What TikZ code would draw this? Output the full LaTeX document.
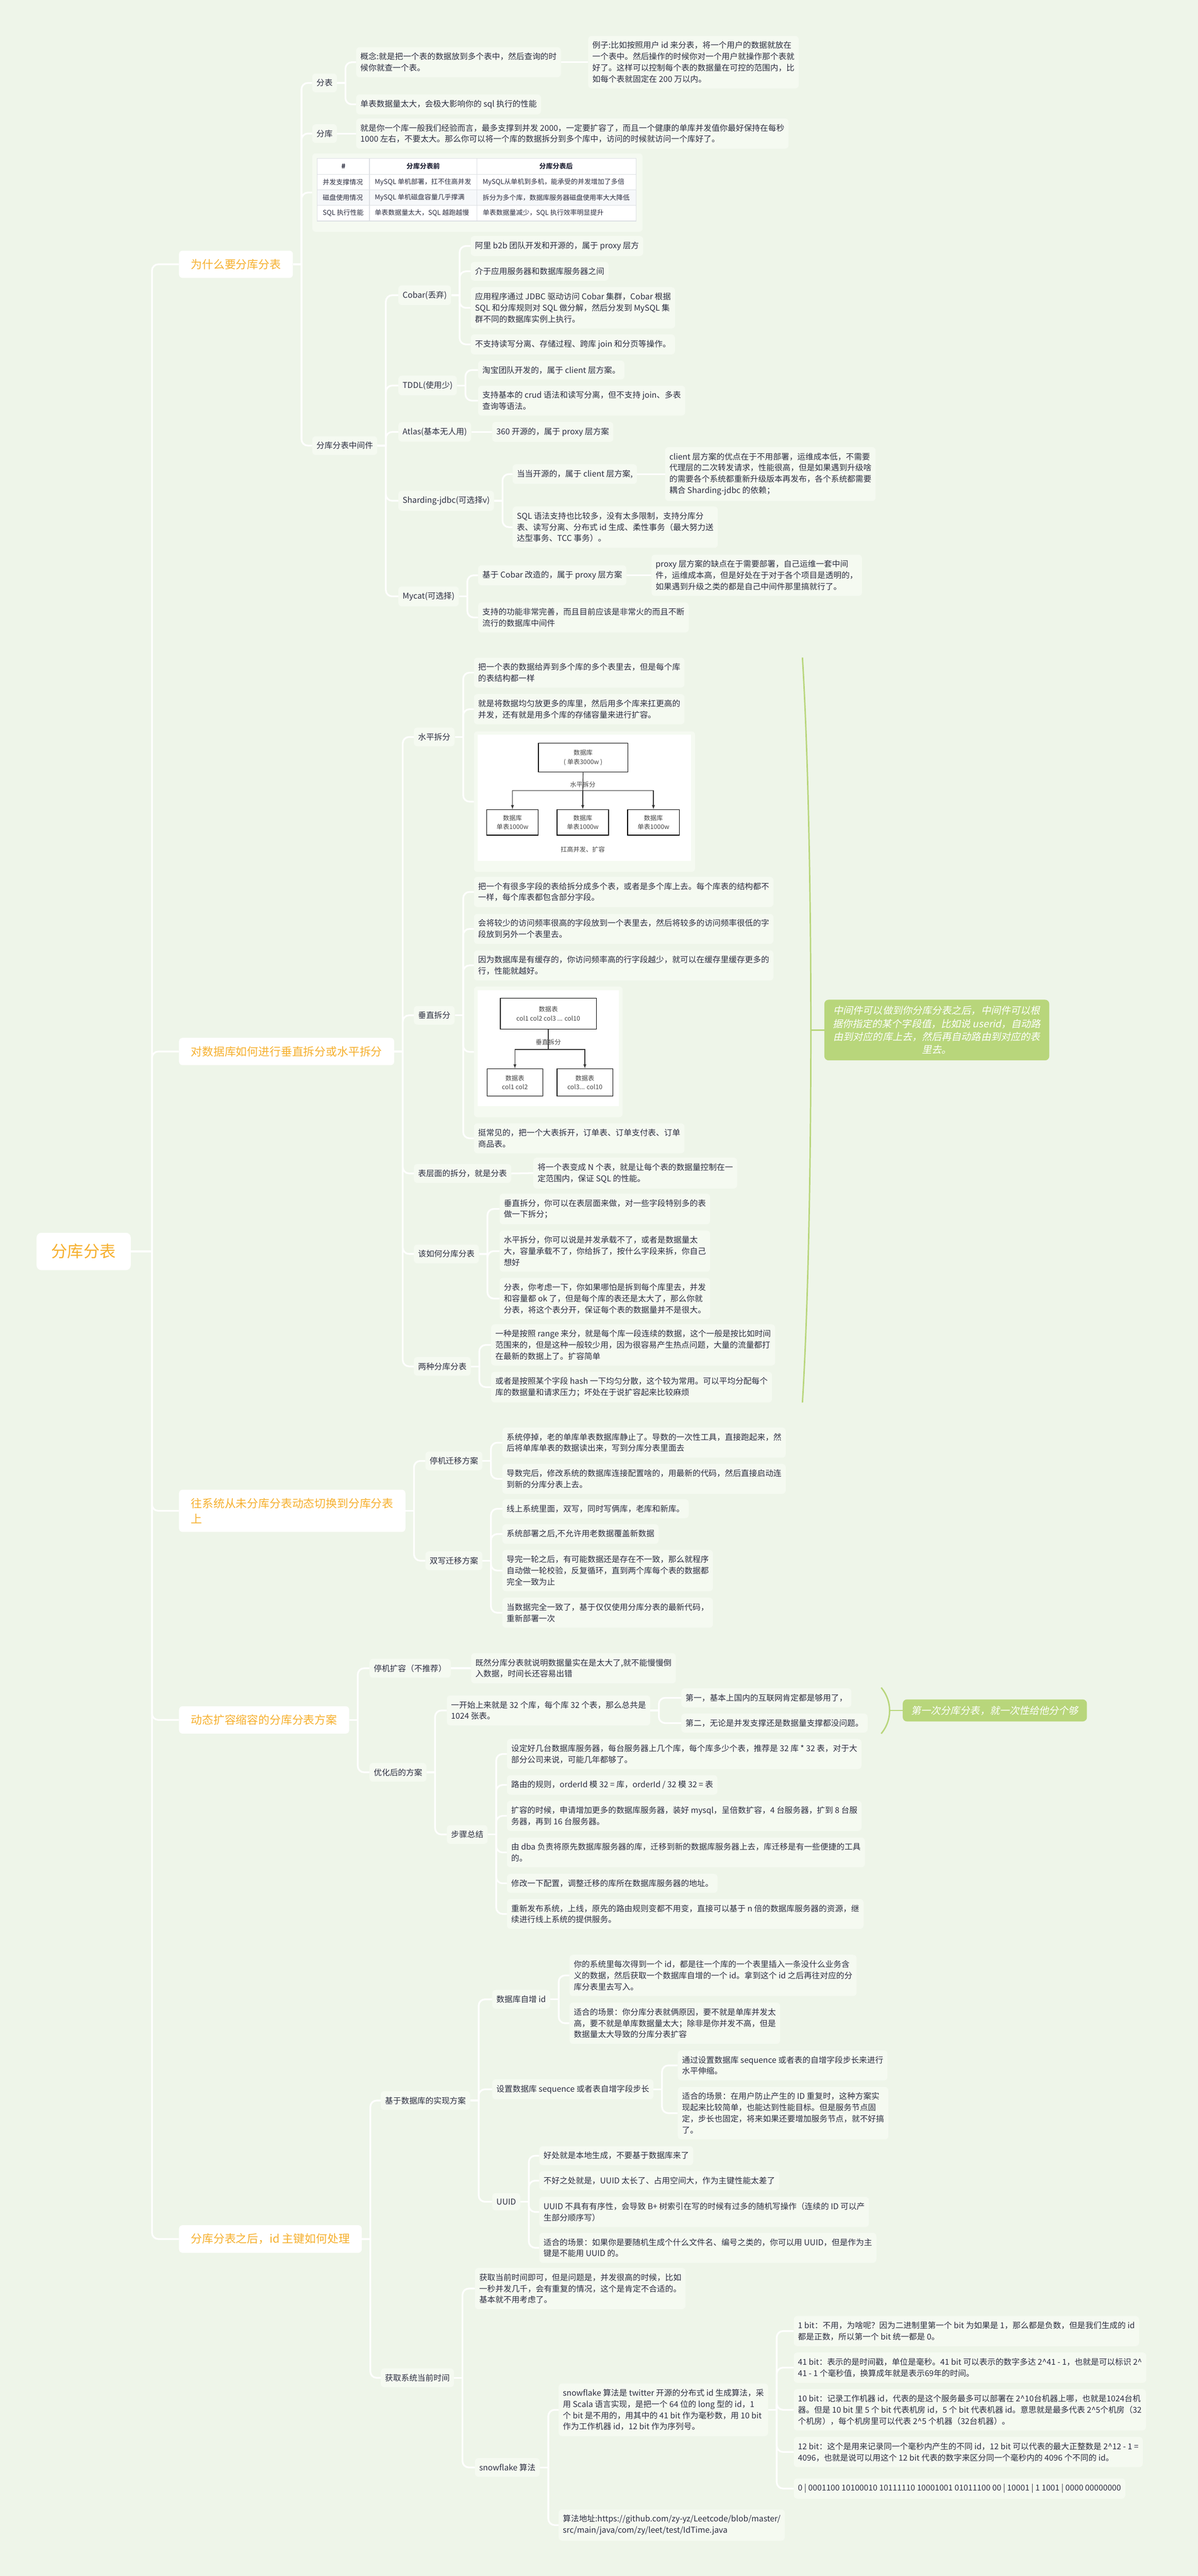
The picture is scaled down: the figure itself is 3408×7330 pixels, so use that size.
\documentclass[tikz,border=0pt]{standalone}
\usepackage{fontspec}
\setmainfont{Noto Sans CJK SC}
\newfontfamily\notefont[FakeSlant=0.2]{Noto Sans CJK SC}
\usepackage{tikz}
\usetikzlibrary{arrows}
\usepackage{color}
\definecolor{paper}{RGB}{238, 245, 233}
\definecolor{leaffill}{RGB}{245, 250, 241}
\definecolor{ink}{RGB}{44, 46, 64}
\definecolor{amber}{RGB}{246, 176, 46}
\definecolor{sprout}{RGB}{184, 214, 123}
\definecolor{gridgray}{RGB}{221, 224, 228}
\definecolor{rowgray}{RGB}{246, 248, 250}
\definecolor{imgink}{RGB}{70, 70, 70}
\tikzset{
  rootbox/.style={fill=white, rounded corners=7pt, text=amber, font=\fontsize{23}{28}\selectfont, inner xsep=21pt, inner ysep=16pt},
  topic/.style={fill=white, rounded corners=5pt, text=amber, font=\fontsize{16}{22}\selectfont, inner xsep=17pt, inner ysep=12pt, align=left, anchor=west},
  leaf/.style={fill=leaffill, rounded corners=5pt, text=ink, font=\fontsize{11.5}{16}\selectfont, inner xsep=6pt, inner ysep=8pt, align=left, anchor=west},
  panel/.style={fill=leaffill, rounded corners=5pt, anchor=west, inner sep=0pt},
  link/.style={draw=white, line width=2.4pt, rounded corners=9pt},
  note/.style={fill=sprout, rounded corners=6pt, text=white, font=\notefont\fontsize{14}{18.5}\selectfont, align=center, inner xsep=12pt, inner ysep=9pt, anchor=west},
  brace/.style={draw=sprout, line width=2pt},
  imgbox/.style={draw=black, line width=1pt, fill=white, text=imgink, font=\fontsize{9}{13}\selectfont, align=center, inner sep=0pt},
  imgtext/.style={text=imgink, font=\fontsize{9}{12}\selectfont, inner sep=1pt},
  imgline/.style={draw=black!80, line width=1pt},
  cell/.style={text=ink, font=\fontsize{9.5}{12}\selectfont, inner sep=0pt},
}
\begin{document}
\begin{tikzpicture}[x=0.5pt, y=-0.5pt]
\useasboundingbox (0,0) rectangle (3408,7330);
\fill[paper] (0,0) rectangle (3408,7330);

\node[rootbox] (root)     at ( 238,3561) {分库分表};
\node[topic]   (why)      at ( 509, 752) {为什么要分库分表};
\node[topic]   (howsplit) at ( 509,2992) {对数据库如何进行垂直拆分或水平拆分};
\node[topic]   (migrate)  at ( 509,4299) {往系统从未分库分表动态切换到分库分表\\上};
\node[topic]   (scale)    at ( 509,4894) {动态扩容缩容的分库分表方案};
\node[topic]   (idkey)    at ( 509,6371) {分库分表之后，id 主键如何处理};

\node[leaf]  (fb)      at ( 888, 236) {分表};
\node[leaf]  (fk)      at ( 888, 380) {分库};
\node[panel, minimum width=470pt, minimum height=111.5pt] (tbl) at (888,548) {};
\node[leaf]  (mid)     at ( 888,1268) {分库分表中间件};
\node[leaf]  (fbdef)   at (1013, 177) {概念:就是把一个表的数据放到多个表中，然后查询的时\\候你就查一个表。};
\node[leaf]  (fbeg)    at (1673, 177) {例子:比如按照用户 id 来分表，将一个用户的数据就放在\\一个表中。然后操作的时候你对一个用户就操作那个表就\\好了。这样可以控制每个表的数据量在可控的范围内，比\\如每个表就固定在 200 万以内。};
\node[leaf]  (fbslow)  at (1013, 297) {单表数据量太大，会极大影响你的 sql 执行的性能};
\node[leaf]  (fktxt)   at (1013, 380) {就是你一个库一般我们经验而言，最多支撑到并发 2000，一定要扩容了，而且一个健康的单库并发值你最好保持在每秒\\1000 左右，不要太大。那么你可以将一个库的数据拆分到多个库中，访问的时候就访问一个库好了。};

\fill[white]   ( 902,451) rectangle (1810,629);
\fill[rowgray] ( 902,540) rectangle (1810,584);
\draw[gridgray, line width=1pt] (902,451) rectangle (1810,629);
\draw[gridgray, line width=1pt] (902,496) -- (1810,496) (902,540) -- (1810,540) (902,584) -- (1810,584);
\draw[gridgray, line width=1pt] (1051,451) -- (1051,629) (1357,451) -- (1357,629);
\node[cell, font=\fontsize{9.5}{12}\selectfont\bfseries] (th0) at ( 977,473) {\#};
\node[cell, font=\fontsize{9.5}{12}\selectfont\bfseries] (th1) at (1204,473) {分库分表前};
\node[cell, font=\fontsize{9.5}{12}\selectfont\bfseries] (th2) at (1582,473) {分库分表后};
\node[cell, anchor=west] (r1a) at ( 918,518) {并发支撑情况};
\node[cell, anchor=west] (r1b) at (1066,518) {MySQL 单机部署，扛不住高并发};
\node[cell, anchor=west] (r1c) at (1373,518) {MySQL从单机到多机，能承受的并发增加了多倍};
\node[cell, anchor=west] (r2a) at ( 918,562) {磁盘使用情况};
\node[cell, anchor=west] (r2b) at (1066,562) {MySQL 单机磁盘容量几乎撑满};
\node[cell, anchor=west] (r2c) at (1373,562) {拆分为多个库，数据库服务器磁盘使用率大大降低};
\node[cell, anchor=west] (r3a) at ( 918,606) {SQL 执行性能};
\node[cell, anchor=west] (r3b) at (1066,606) {单表数据量太大，SQL 越跑越慢};
\node[cell, anchor=west] (r3c) at (1373,606) {单表数据量减少，SQL 执行效率明显提升};

\node[leaf]  (cobar)   at (1133, 840) {Cobar(丢弃)};
\node[leaf]  (tddl)    at (1133,1097) {TDDL(使用少)};
\node[leaf]  (atlas)   at (1133,1229) {Atlas(基本无人用)};
\node[leaf]  (sjdbc)   at (1133,1425) {Sharding-jdbc(可选择v)};
\node[leaf]  (mycat)   at (1133,1697) {Mycat(可选择)};
\node[leaf]  (cobarA)  at (1339, 700) {阿里 b2b 团队开发和开源的，属于 proxy 层方};
\node[leaf]  (cobarB)  at (1339, 772) {介于应用服务器和数据库服务器之间};
\node[leaf]  (cobarC)  at (1339, 876) {应用程序通过 JDBC 驱动访问 Cobar 集群，Cobar 根据\\SQL 和分库规则对 SQL 做分解，然后分发到 MySQL 集\\群不同的数据库实例上执行。};
\node[leaf]  (cobarD)  at (1339, 980) {不支持读写分离、存储过程、跨库 join 和分页等操作。};
\node[leaf]  (tddlA)   at (1360,1053) {淘宝团队开发的，属于 client 层方案。};
\node[leaf]  (tddlB)   at (1360,1140) {支持基本的 crud 语法和读写分离，但不支持 join、多表\\查询等语法。};
\node[leaf]  (atlasA)  at (1400,1229) {360 开源的，属于 proxy 层方案};
\node[leaf]  (sjdbcA)  at (1458,1349) {当当开源的，属于 client 层方案,};
\node[leaf]  (sjdbcC)  at (1892,1349) {client 层方案的优点在于不用部署，运维成本低，不需要\\代理层的二次转发请求，性能很高，但是如果遇到升级啥\\的需要各个系统都重新升级版本再发布，各个系统都需要\\耦合 Sharding-jdbc 的依赖；};
\node[leaf]  (sjdbcB)  at (1458,1500) {SQL 语法支持也比较多，没有太多限制，支持分库分\\表、读写分离、分布式 id 生成、柔性事务（最大努力送\\达型事务、TCC 事务）。};
\node[leaf]  (mycatA)  at (1360,1637) {基于 Cobar 改造的，属于 proxy 层方案};
\node[leaf]  (mycatC)  at (1853,1637) {proxy 层方案的缺点在于需要部署，自己运维一套中间\\件，运维成本高，但是好处在于对于各个项目是透明的，\\如果遇到升级之类的都是自己中间件那里搞就行了。};
\node[leaf]  (mycatB)  at (1360,1757) {支持的功能非常完善，而且目前应该是非常火的而且不断\\流行的数据库中间件};

\node[leaf]  (hsplit)   at (1177,2097) {水平拆分};
\node[leaf]  (vsplit)   at (1177,2889) {垂直拆分};
\node[leaf]  (tblsplit) at (1177,3339) {表层面的拆分，就是分表};
\node[leaf]  (howto)    at (1177,3568) {该如何分库分表};
\node[leaf]  (twoways)  at (1177,3888) {两种分库分表};
\node[leaf]  (hsA)      at (1348,1914) {把一个表的数据给弄到多个库的多个表里去，但是每个库\\的表结构都一样};
\node[leaf]  (hsB)      at (1348,2018) {就是将数据均匀放更多的库里，然后用多个库来扛更高的\\并发，还有就是用多个库的存储容量来进行扩容。};
\node[panel, minimum width=314.5pt, minimum height=200pt] (hsimg) at (1348,2281) {};
\node[leaf]  (vsA)      at (1348,2538) {把一个有很多字段的表给拆分成多个表，或者是多个库上去。每个库表的结构都不\\一样，每个库表都包含部分字段。};
\node[leaf]  (vsB)      at (1348,2643) {会将较少的访问频率很高的字段放到一个表里去，然后将较多的访问频率很低的字\\段放到另外一个表里去。};
\node[leaf]  (vsC)      at (1348,2747) {因为数据库是有缓存的，你访问频率高的行字段越少，就可以在缓存里缓存更多的\\行，性能就越好。};
\node[panel, minimum width=211.5pt, minimum height=186pt] (vsimg) at (1348,2993) {};
\node[leaf]  (vsD)      at (1348,3239) {挺常见的，把一个大表拆开，订单表、订单支付表、订单\\商品表。};
\node[leaf]  (tsA)      at (1517,3338) {将一个表变成 N 个表，就是让每个表的数据量控制在一\\定范围内，保证 SQL 的性能。};
\node[leaf]  (htA)      at (1421,3440) {垂直拆分，你可以在表层面来做，对一些字段特别多的表\\做一下拆分；};
\node[leaf]  (htB)      at (1421,3560) {水平拆分，你可以说是并发承载不了，或者是数据量太\\大，容量承载不了，你给拆了，按什么字段来拆，你自己\\想好};
\node[leaf]  (htC)      at (1421,3695) {分表，你考虑一下，你如果哪怕是拆到每个库里去，并发\\和容量都 ok 了，但是每个库的表还是太大了，那么你就\\分表，将这个表分开，保证每个表的数据量并不是很大。};
\node[leaf]  (twA)      at (1397,3827) {一种是按照 range 来分，就是每个库一段连续的数据，这个一般是按比如时间\\范围来的，但是这种一般较少用，因为很容易产生热点问题，大量的流量都打\\在最新的数据上了。扩容简单};
\node[leaf]  (twB)      at (1397,3947) {或者是按照某个字段 hash 一下均匀分散，这个较为常用。可以平均分配每个\\库的数据量和请求压力；坏处在于说扩容起来比较麻烦};

\fill[white] (1359,2090) rectangle (1966,2450);
\node[imgbox, minimum width=127pt,  minimum height=41pt]   (hstop) at (1659,2156) {数据库\\( 单表3000w )};
\node[imgbox, minimum width=73.5pt, minimum height=36.5pt] (hsa)   at (1458,2340) {数据库\\单表1000w};
\node[imgbox, minimum width=73.5pt, minimum height=36.5pt] (hsb)   at (1658,2340) {数据库\\单表1000w};
\node[imgbox, minimum width=73.5pt, minimum height=36.5pt] (hsc)   at (1859,2340) {数据库\\单表1000w};
\coordinate (hsj) at (1658,2250);
\draw[imgline] (hstop.south) -- (hsj);
\draw[imgline, -latex] (hsj) -| (hsa.north);
\draw[imgline, -latex] (hsj) -- (hsb.north);
\draw[imgline, -latex] (hsj) -| (hsc.north);
\node[imgtext] (hslabel) at (1658,2233) {水平拆分};
\node[imgtext] (hscap)   at (1658,2417) {扛高并发、扩容};

\fill[white] (1359,2818) rectangle (1761,3147);
\node[imgbox, minimum width=136.5pt, minimum height=44pt] (vstop) at (1560,2884) {数据表\\col1 col2 col3 ... col10};
\node[imgbox, minimum width=79pt,    minimum height=39pt] (vsa)   at (1465,3080) {数据表\\col1 col2};
\node[imgbox, minimum width=79.5pt,  minimum height=39pt] (vsb)   at (1664,3080) {数据表\\col3... col10};
\coordinate (vsj) at (1560,2986);
\draw[imgline] (vstop.south) -- (vsj);
\draw[imgline, -latex] (vsj) -| (vsa.north);
\draw[imgline, -latex] (vsj) -| (vsb.north);
\node[imgtext] (vslabel) at (1560,2965) {垂直拆分};

\node[note] (note1) at (2345,2931) {中间件可以做到你分库分表之后，中间件可以根\\据你指定的某个字段值，比如说 userid，自动路\\由到对应的库上去，然后再自动路由到对应的表\\里去。};
\draw[brace] (2283,1871) .. controls (2315,2400) and (2315,3462) .. (2283,3991);
\coordinate (brace1) at (2307,2931);
\draw[brace] (brace1) -- (note1.west);

\node[leaf]  (stop)     at (1210,4157) {停机迁移方案};
\node[leaf]  (dual)     at (1210,4441) {双写迁移方案};
\node[leaf]  (stopA)    at (1429,4105) {系统停掉，老的单库单表数据库静止了。导数的一次性工具，直接跑起来，然\\后将单库单表的数据读出来，写到分库分表里面去};
\node[leaf]  (stopB)    at (1429,4208) {导数完后，修改系统的数据库连接配置啥的，用最新的代码，然后直接启动连\\到新的分库分表上去。};
\node[leaf]  (dualA)    at (1429,4293) {线上系统里面，双写，同时写俩库，老库和新库。};
\node[leaf]  (dualB)    at (1429,4365) {系统部署之后,不允许用老数据覆盖新数据};
\node[leaf]  (dualC)    at (1429,4469) {导完一轮之后，有可能数据还是存在不一致，那么就程序\\自动做一轮校验，反复循环，直到两个库每个表的数据都\\完全一致为止};
\node[leaf]  (dualD)    at (1429,4589) {当数据完全一致了，基于仅仅使用分库分表的最新代码，\\重新部署一次};

\node[leaf]  (stopgrow) at (1051,4747) {停机扩容（不推荐）};
\node[leaf]  (better)   at (1051,5043) {优化后的方案};
\node[leaf]  (sgA)      at (1340,4747) {既然分库分表就说明数据量实在是太大了,就不能慢慢倒\\入数据，时间长还容易出错};
\node[leaf]  (first)    at (1271,4867) {一开始上来就是 32 个库，每个库 32 个表，那么总共是\\1024 张表。};
\node[leaf]  (steps)    at (1271,5220) {步骤总结};
\node[leaf]  (firstA)   at (1938,4831) {第一，基本上国内的互联网肯定都是够用了，};
\node[leaf]  (firstB)   at (1938,4903) {第二，无论是并发支撑还是数据量支撑都没问题。};
\node[leaf]  (stepA)    at (1442,4991) {设定好几台数据库服务器，每台服务器上几个库，每个库多少个表，推荐是 32 库 * 32 表，对于大\\部分公司来说，可能几年都够了。};
\node[leaf]  (stepB)    at (1442,5079) {路由的规则，orderId 模 32 = 库，orderId / 32 模 32 = 表};
\node[leaf]  (stepC)    at (1442,5167) {扩容的时候，申请增加更多的数据库服务器，装好 mysql，呈倍数扩容，4 台服务器，扩到 8 台服\\务器，再到 16 台服务器。};
\node[leaf]  (stepD)    at (1442,5271) {由 dba 负责将原先数据库服务器的库，迁移到新的数据库服务器上去，库迁移是有一些便捷的工具\\的。};
\node[leaf]  (stepE)    at (1442,5359) {修改一下配置，调整迁移的库所在数据库服务器的地址。};
\node[leaf]  (stepF)    at (1442,5446) {重新发布系统，上线，原先的路由规则变都不用变，直接可以基于 n 倍的数据库服务器的资源，继\\续进行线上系统的提供服务。};

\node[note] (note2) at (2568,4867) {第一次分库分表，就一次性给他分个够};
\draw[brace] (2507,4802) .. controls (2539,4840) and (2539,4895) .. (2507,4933);
\coordinate (brace2) at (2531,4867);
\draw[brace] (brace2) -- (note2.west);

\node[leaf]  (dbway)    at (1083,5977) {基于数据库的实现方案};
\node[leaf]  (timeway)  at (1083,6766) {获取系统当前时间};
\node[leaf]  (autoinc)  at (1400,5689) {数据库自增 id};
\node[leaf]  (seq)      at (1400,5945) {设置数据库 sequence 或者表自增字段步长};
\node[leaf]  (uuid)     at (1400,6265) {UUID};
\node[leaf]  (aiA)      at (1620,5621) {你的系统里每次得到一个 id，都是往一个库的一个表里插入一条没什么业务含\\义的数据，然后获取一个数据库自增的一个 id。拿到这个 id 之后再往对应的分\\库分表里去写入。};
\node[leaf]  (aiB)      at (1620,5757) {适合的场景：你分库分表就俩原因，要不就是单库并发太\\高，要不就是单库数据量太大；除非是你并发不高，但是\\数据量太大导致的分库分表扩容};
\node[leaf]  (seqA)     at (1928,5877) {通过设置数据库 sequence 或者表的自增字段步长来进行\\水平伸缩。};
\node[leaf]  (seqB)     at (1928,6013) {适合的场景：在用户防止产生的 ID 重复时，这种方案实\\现起来比较简单，也能达到性能目标。但是服务节点固\\定，步长也固定，将来如果还要增加服务节点，就不好搞\\了。};
\node[leaf]  (uuA)      at (1534,6134) {好处就是本地生成，不要基于数据库来了};
\node[leaf]  (uuB)      at (1534,6205) {不好之处就是，UUID 太长了、占用空间大，作为主键性能太差了};
\node[leaf]  (uuC)      at (1534,6294) {UUID 不具有有序性，会导致 B+ 树索引在写的时候有过多的随机写操作（连续的 ID 可以产\\生部分顺序写）};
\node[leaf]  (uuD)      at (1534,6396) {适合的场景：如果你是要随机生成个什么文件名、编号之类的，你可以用 UUID，但是作为主\\键是不能用 UUID 的。};
\node[leaf]  (nowA)     at (1351,6512) {获取当前时间即可，但是问题是，并发很高的时候，比如\\一秒并发几千，会有重复的情况，这个是肯定不合适的。\\基本就不用考虑了。};
\node[leaf]  (snow)     at (1351,7021) {snowflake 算法};
\node[leaf]  (snowA)    at (1589,6857) {snowflake 算法是 twitter 开源的分布式 id 生成算法，采\\用 Scala 语言实现，是把一个 64 位的 long 型的 id，1\\个 bit 是不用的，用其中的 41 bit 作为毫秒数，用 10 bit\\作为工作机器 id，12 bit 作为序列号。};
\node[leaf]  (snowB)    at (1589,7185) {算法地址:https://github.com/zy-yz/Leetcode/blob/master/\\src/main/java/com/zy/leet/test/IdTime.java};
\node[leaf]  (bit1)     at (2258,6633) {1 bit：不用，为啥呢？因为二进制里第一个 bit 为如果是 1，那么都是负数，但是我们生成的 id\\都是正数，所以第一个 bit 统一都是 0。};
\node[leaf]  (bit41)    at (2258,6737) {41 bit：表示的是时间戳，单位是毫秒。41 bit 可以表示的数字多达 2\textasciicircum{}41 - 1，也就是可以标识 2\textasciicircum{}\\41 - 1 个毫秒值，换算成年就是表示69年的时间。};
\node[leaf]  (bit10)    at (2258,6857) {10 bit：记录工作机器 id，代表的是这个服务最多可以部署在 2\textasciicircum{}10台机器上哪，也就是1024台机\\器。但是 10 bit 里 5 个 bit 代表机房 id，5 个 bit 代表机器 id。意思就是最多代表 2\textasciicircum{}5个机房（32\\个机房），每个机房里可以代表 2\textasciicircum{}5 个机器（32台机器）。};
\node[leaf]  (bit12)    at (2258,6977) {12 bit：这个是用来记录同一个毫秒内产生的不同 id，12 bit 可以代表的最大正整数是 2\textasciicircum{}12 - 1 =\\4096，也就是说可以用这个 12 bit 代表的数字来区分同一个毫秒内的 4096 个不同的 id。};
\node[leaf]  (bits)     at (2258,7081) {0 | 0001100 10100010 10111110 10001001 01011100 00 | 10001 | 1 1001 | 0000 00000000};

\draw[link] (root.east) -- ++(30pt,0);
\draw[link] (root.east) ++(30pt,0) |- (why.west);
\draw[link] (root.east) ++(30pt,0) |- (howsplit.west);
\draw[link] (root.east) ++(30pt,0) |- (migrate.west);
\draw[link] (root.east) ++(30pt,0) |- (scale.west);
\draw[link] (root.east) ++(30pt,0) |- (idkey.west);

\draw[link] (why.east) -- ++(12pt,0);
\draw[link] (why.east) ++(12pt,0) |- (fb.west);
\draw[link] (why.east) ++(12pt,0) |- (fk.west);
\draw[link] (why.east) ++(12pt,0) |- (tbl.west);
\draw[link] (why.east) ++(12pt,0) |- (mid.west);
\draw[link] (fb.east) -- ++(12pt,0);
\draw[link] (fb.east) ++(12pt,0) |- (fbdef.west);
\draw[link] (fb.east) ++(12pt,0) |- (fbslow.west);
\draw[link] (fbdef.east) -- (fbeg.west);
\draw[link] (fk.east) -- (fktxt.west);
\draw[link] (mid.east) -- ++(12pt,0);
\draw[link] (mid.east) ++(12pt,0) |- (cobar.west);
\draw[link] (mid.east) ++(12pt,0) |- (tddl.west);
\draw[link] (mid.east) ++(12pt,0) |- (atlas.west);
\draw[link] (mid.east) ++(12pt,0) |- (sjdbc.west);
\draw[link] (mid.east) ++(12pt,0) |- (mycat.west);
\draw[link] (cobar.east) -- ++(12pt,0);
\draw[link] (cobar.east) ++(12pt,0) |- (cobarA.west);
\draw[link] (cobar.east) ++(12pt,0) |- (cobarB.west);
\draw[link] (cobar.east) ++(12pt,0) |- (cobarC.west);
\draw[link] (cobar.east) ++(12pt,0) |- (cobarD.west);
\draw[link] (tddl.east) -- ++(12pt,0);
\draw[link] (tddl.east) ++(12pt,0) |- (tddlA.west);
\draw[link] (tddl.east) ++(12pt,0) |- (tddlB.west);
\draw[link] (atlas.east) -- (atlasA.west);
\draw[link] (sjdbc.east) -- ++(12pt,0);
\draw[link] (sjdbc.east) ++(12pt,0) |- (sjdbcA.west);
\draw[link] (sjdbc.east) ++(12pt,0) |- (sjdbcB.west);
\draw[link] (sjdbcA.east) -- (sjdbcC.west);
\draw[link] (mycat.east) -- ++(12pt,0);
\draw[link] (mycat.east) ++(12pt,0) |- (mycatA.west);
\draw[link] (mycat.east) ++(12pt,0) |- (mycatB.west);
\draw[link] (mycatA.east) -- (mycatC.west);

\draw[link] (howsplit.east) -- ++(12pt,0);
\draw[link] (howsplit.east) ++(12pt,0) |- (hsplit.west);
\draw[link] (howsplit.east) ++(12pt,0) |- (vsplit.west);
\draw[link] (howsplit.east) ++(12pt,0) |- (tblsplit.west);
\draw[link] (howsplit.east) ++(12pt,0) |- (howto.west);
\draw[link] (howsplit.east) ++(12pt,0) |- (twoways.west);
\draw[link] (hsplit.east) -- ++(12pt,0);
\draw[link] (hsplit.east) ++(12pt,0) |- (hsA.west);
\draw[link] (hsplit.east) ++(12pt,0) |- (hsB.west);
\draw[link] (hsplit.east) ++(12pt,0) |- (hsimg.west);
\draw[link] (vsplit.east) -- ++(12pt,0);
\draw[link] (vsplit.east) ++(12pt,0) |- (vsA.west);
\draw[link] (vsplit.east) ++(12pt,0) |- (vsB.west);
\draw[link] (vsplit.east) ++(12pt,0) |- (vsC.west);
\draw[link] (vsplit.east) ++(12pt,0) |- (vsimg.west);
\draw[link] (vsplit.east) ++(12pt,0) |- (vsD.west);
\draw[link] (tblsplit.east) -- (tsA.west);
\draw[link] (howto.east) -- ++(12pt,0);
\draw[link] (howto.east) ++(12pt,0) |- (htA.west);
\draw[link] (howto.east) ++(12pt,0) |- (htB.west);
\draw[link] (howto.east) ++(12pt,0) |- (htC.west);
\draw[link] (twoways.east) -- ++(12pt,0);
\draw[link] (twoways.east) ++(12pt,0) |- (twA.west);
\draw[link] (twoways.east) ++(12pt,0) |- (twB.west);

\draw[link] (migrate.east) -- ++(12pt,0);
\draw[link] (migrate.east) ++(12pt,0) |- (stop.west);
\draw[link] (migrate.east) ++(12pt,0) |- (dual.west);
\draw[link] (stop.east) -- ++(12pt,0);
\draw[link] (stop.east) ++(12pt,0) |- (stopA.west);
\draw[link] (stop.east) ++(12pt,0) |- (stopB.west);
\draw[link] (dual.east) -- ++(12pt,0);
\draw[link] (dual.east) ++(12pt,0) |- (dualA.west);
\draw[link] (dual.east) ++(12pt,0) |- (dualB.west);
\draw[link] (dual.east) ++(12pt,0) |- (dualC.west);
\draw[link] (dual.east) ++(12pt,0) |- (dualD.west);

\draw[link] (scale.east) -- ++(12pt,0);
\draw[link] (scale.east) ++(12pt,0) |- (stopgrow.west);
\draw[link] (scale.east) ++(12pt,0) |- (better.west);
\draw[link] (stopgrow.east) -- (sgA.west);
\draw[link] (better.east) -- ++(12pt,0);
\draw[link] (better.east) ++(12pt,0) |- (first.west);
\draw[link] (better.east) ++(12pt,0) |- (steps.west);
\draw[link] (first.east) -- ++(12pt,0);
\draw[link] (first.east) ++(12pt,0) |- (firstA.west);
\draw[link] (first.east) ++(12pt,0) |- (firstB.west);
\draw[link] (steps.east) -- ++(12pt,0);
\draw[link] (steps.east) ++(12pt,0) |- (stepA.west);
\draw[link] (steps.east) ++(12pt,0) |- (stepB.west);
\draw[link] (steps.east) ++(12pt,0) |- (stepC.west);
\draw[link] (steps.east) ++(12pt,0) |- (stepD.west);
\draw[link] (steps.east) ++(12pt,0) |- (stepE.west);
\draw[link] (steps.east) ++(12pt,0) |- (stepF.west);

\draw[link] (idkey.east) -- ++(12pt,0);
\draw[link] (idkey.east) ++(12pt,0) |- (dbway.west);
\draw[link] (idkey.east) ++(12pt,0) |- (timeway.west);
\draw[link] (dbway.east) -- ++(12pt,0);
\draw[link] (dbway.east) ++(12pt,0) |- (autoinc.west);
\draw[link] (dbway.east) ++(12pt,0) |- (seq.west);
\draw[link] (dbway.east) ++(12pt,0) |- (uuid.west);
\draw[link] (autoinc.east) -- ++(12pt,0);
\draw[link] (autoinc.east) ++(12pt,0) |- (aiA.west);
\draw[link] (autoinc.east) ++(12pt,0) |- (aiB.west);
\draw[link] (seq.east) -- ++(12pt,0);
\draw[link] (seq.east) ++(12pt,0) |- (seqA.west);
\draw[link] (seq.east) ++(12pt,0) |- (seqB.west);
\draw[link] (uuid.east) -- ++(12pt,0);
\draw[link] (uuid.east) ++(12pt,0) |- (uuA.west);
\draw[link] (uuid.east) ++(12pt,0) |- (uuB.west);
\draw[link] (uuid.east) ++(12pt,0) |- (uuC.west);
\draw[link] (uuid.east) ++(12pt,0) |- (uuD.west);
\draw[link] (timeway.east) -- ++(12pt,0);
\draw[link] (timeway.east) ++(12pt,0) |- (nowA.west);
\draw[link] (timeway.east) ++(12pt,0) |- (snow.west);
\draw[link] (snow.east) -- ++(12pt,0);
\draw[link] (snow.east) ++(12pt,0) |- (snowA.west);
\draw[link] (snow.east) ++(12pt,0) |- (snowB.west);
\draw[link] (snowA.east) -- ++(12pt,0);
\draw[link] (snowA.east) ++(12pt,0) |- (bit1.west);
\draw[link] (snowA.east) ++(12pt,0) |- (bit41.west);
\draw[link] (snowA.east) ++(12pt,0) |- (bit10.west);
\draw[link] (snowA.east) ++(12pt,0) |- (bit12.west);
\draw[link] (snowA.east) ++(12pt,0) |- (bits.west);
\end{tikzpicture}
\end{document}
